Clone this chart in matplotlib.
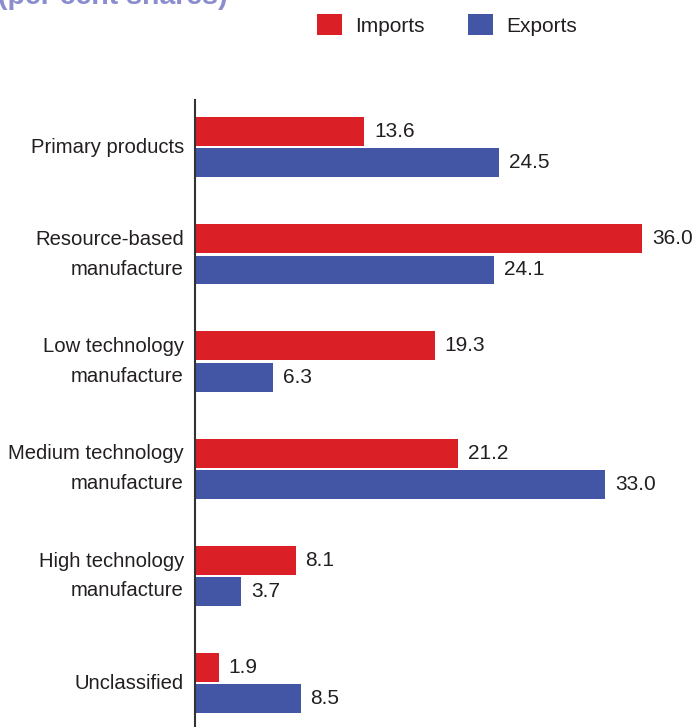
import matplotlib.pyplot as plt
import numpy as np

plt.rcParams['font.family'] = ['Liberation Sans', 'DejaVu Sans']

categories = ['Primary products', 'Resource-based\nmanufacture', 'Low technology\nmanufacture',
              'Medium technology\nmanufacture', 'High technology\nmanufacture', 'Unclassified']
imports = [13.6, 36.0, 19.3, 21.2, 8.1, 1.9]
exports = [24.5, 24.1, 6.3, 33.0, 3.7, 8.5]

red = '#da1f27'
blue = '#4356a5'
txt = '#231f20'

fig = plt.figure(figsize=(6.92, 7.27), dpi=100)
W, H = 692, 727
ax = fig.add_axes([195 / W, 0, (W - 195) / W, (727 - 100) / H])

y = np.arange(len(categories))
h = 0.27
off = 0.146
ax.barh(y - off, imports, height=h, color=red, label='Imports')
ax.barh(y + off, exports, height=h, color=blue, label='Exports')

# value labels
for yi, v in zip(y, imports):
    ax.text(v + 0.8, yi - off, f'{v:.1f}', va='center', ha='left', fontsize=15, color=txt)
for yi, v in zip(y, exports):
    ax.text(v + 0.8, yi + off, f'{v:.1f}', va='center', ha='left', fontsize=15, color=txt)

ax.set_xlim(0, 40)
ax.set_ylim(5.41, -0.44)
ax.set_yticks(y)
ax.set_yticklabels(categories, fontsize=14.6, color=txt, ha='right', linespacing=1.7)
for t in ax.get_yticklabels():
    t.set_va('center')
ax.tick_params(axis='y', length=0, pad=8)
ax.set_xticks([])
for s in ['top', 'right', 'bottom']:
    ax.spines[s].set_visible(False)
ax.spines['left'].set_color('#333333')
ax.spines['left'].set_linewidth(1.5)

leg = fig.legend(loc='upper left', bbox_to_anchor=(317 / W, 1 - 14 / H), ncol=2, frameon=False,
                 fontsize=15, handlelength=1.2, handleheight=1.2, columnspacing=2.05,
                 handletextpad=0.65, borderpad=0, borderaxespad=0)
for t in leg.get_texts():
    t.set_color(txt)

fig.text(-0.003, 1 - 4 / H, '(per cent shares)', fontsize=20.5, fontweight='bold',
         color='#8b8dcf', ha='left', va='baseline')

fig.savefig('out.png', dpi=100)
